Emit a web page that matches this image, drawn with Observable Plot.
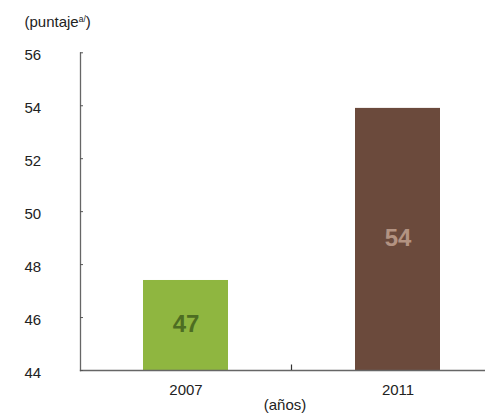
<!DOCTYPE html>
<html><head><meta charset="utf-8">
<script src="https://cdn.jsdelivr.net/npm/d3@7"></script>
<script src="https://cdn.jsdelivr.net/npm/@observablehq/plot@0.6"></script>
<style>
body{margin:0;background:#fff;font-family:"Liberation Sans",Arial,sans-serif;}
#title{position:relative;height:38px;font-size:15px;color:#222;}
#title span{position:absolute;left:24.5px;top:13px;white-space:nowrap;}
#title sup{font-size:8.5px;vertical-align:top;position:relative;top:1px;}
</style></head><body>
<div id="title"><span>(puntaje<sup>a/</sup>)</span></div>
<div id="chart"></div>
<script>
const years = ["2007", "2011"];
const scores = [47.4, 53.9];
const valueLabels = ["47", "54"];
const barColors = ["#8fb640", "#6b4a3c"];
const labelColors = ["#4d6d22", "#b39382"];
const yTicks = [44, 46, 48, 50, 52, 54, 56];
const xLabel = "(años)";

const data = years.map((y, i) => ({year: y, score: scores[i], label: valueLabels[i], fill: barColors[i], lc: labelColors[i]}));
const yMin = yTicks[0], yMax = yTicks[yTicks.length - 1];

const chart = Plot.plot({
  width: 485, height: 376,
  marginTop: 14.3, marginBottom: 44, marginLeft: 80, marginRight: 0,
  style: {fontFamily: "Liberation Sans, Arial, sans-serif", fontSize: "15px", color: "#222", background: "#fff", overflow: "visible"},
  x: {domain: years, range: [79.5, 503.5], paddingInner: 0.6, paddingOuter: 0.3, align: 0.5, label: null},
  y: {domain: [yMin, yMax], label: null},
  color: {type: "identity"},
  marks: [
    Plot.barY(data, {x: "year", y1: yMin, y2: "score", fill: "fill"}),
    Plot.text(data, {x: "year", y: d => (yMin + d.score) / 2, text: "label", fill: "lc", fontSize: 24, fontWeight: "bold", dy: -1}),
    Plot.frame({anchor: "left", stroke: "#666", strokeWidth: 1.3}),
    Plot.frame({anchor: "bottom", stroke: "#666", strokeWidth: 1.3}),
    Plot.axisY({ticks: yTicks, tickSize: -3, text: null, stroke: "#555", label: null}),
    Plot.axisY({ticks: yTicks, tickSize: 0, tickPadding: 56, textAnchor: "start", dy: 2.5, fill: "#222", fontSize: 15, label: null, tickFormat: d => String(d)}),
    Plot.axisX({tickSize: 0, tickPadding: 14.3, fill: "#222", fontSize: 15, label: null}),
    Plot.text([xLabel], {frameAnchor: "bottom", text: d => d, lineAnchor: "top", dy: 29.3, dx: 2, fill: "#222", fontSize: 15})
  ]
});

document.getElementById("chart").appendChild(chart);

// middle tick on the x axis between the two bands, from the x scale
const sx = chart.scale("x");
const midX = ((sx.apply(years[0]) + sx.bandwidth) + sx.apply(years[1])) / 2;
const sy = chart.scale("y");
d3.select(chart).append("line")
  .attr("x1", midX).attr("x2", midX)
  .attr("y1", sy.apply(yMin) - 5.5).attr("y2", sy.apply(yMin))
  .attr("stroke", "#333").attr("stroke-width", 1.2);
</script>
</body></html>
